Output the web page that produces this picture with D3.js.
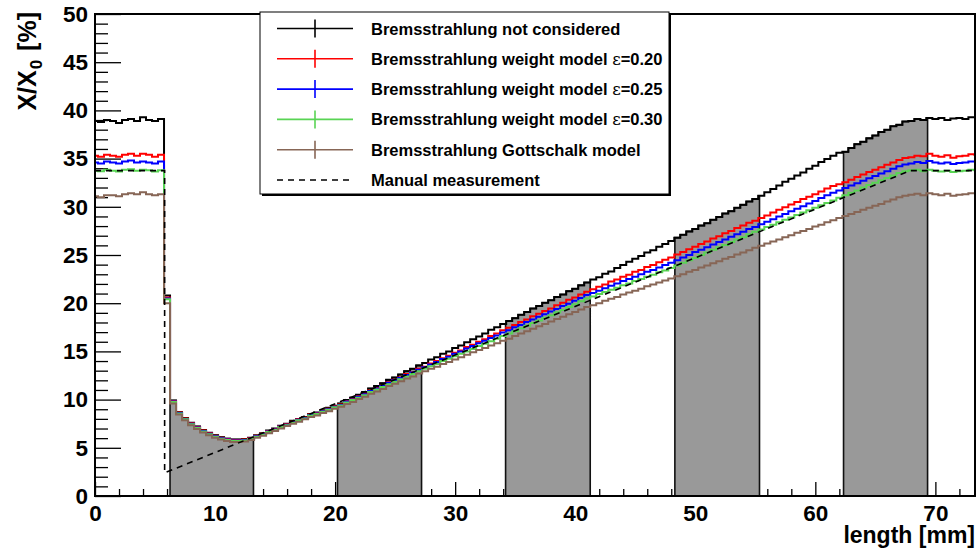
<!DOCTYPE html>
<html><head><meta charset="utf-8">
<script src="https://cdn.jsdelivr.net/npm/d3@7"></script>
<style>
body{margin:0;background:#fff}
svg{display:block}
text{font-family:"Liberation Sans",Arial,Helvetica,sans-serif;font-weight:bold;fill:#000}
</style>
</head><body>
<svg id="c" width="977" height="551"></svg>
<script>
// histogram binning (mm)
const binStart = -0.25;
const binWidth = 0.5;

// X/X0 [%] per bin
const notConsidered = [
38.9,38.8,39.0,38.9,38.7,39.0,39.1,38.9,39.3,39.0,
38.9,39.1,20.8,9.9,8.7,8.1,7.6,7.2,6.85,6.55,
6.3,6.1,5.95,5.85,5.85,5.9,6.05,6.3,6.5,6.8,
7.0,7.3,7.5,7.8,8.0,8.2,8.5,8.65,8.9,9.15,
9.35,9.6,9.95,10.2,10.5,10.8,11.15,11.4,11.7,12.05,
12.3,12.6,12.95,13.2,13.55,13.8,14.15,14.4,14.75,15.0,
15.35,15.6,15.95,16.25,16.55,16.85,17.25,17.5,17.85,18.15,
18.45,18.8,19.1,19.45,19.7,20.05,20.3,20.65,20.9,21.25,
21.5,21.85,22.15,22.45,22.7,23.05,23.3,23.65,23.95,24.3,
24.6,24.9,25.25,25.5,25.85,26.15,26.45,26.8,27.1,27.45,
27.7,28.05,28.3,28.65,28.95,29.3,29.55,29.9,30.2,30.55,
30.8,31.15,31.5,31.85,32.2,32.6,32.9,33.25,33.55,33.95,
34.25,34.65,34.95,35.3,35.6,35.7,36.1,36.5,36.75,37.1,
37.4,37.75,38.0,38.35,38.5,38.85,38.9,39.1,39.0,39.2,
39.1,39.2,39.0,39.15,39.2,39.1,39.3,39.3];

const weight020 = [
35.3,35.2,35.4,35.3,35.2,35.4,35.5,35.3,35.5,35.4,
35.2,35.4,20.6,9.85,8.65,8.05,7.55,7.15,6.8,6.5,
6.25,6.05,5.9,5.8,5.8,5.85,6.0,6.25,6.45,6.75,
6.95,7.25,7.45,7.7,7.95,8.15,8.45,8.6,8.85,9.05,
9.3,9.5,9.85,10.05,10.35,10.6,10.95,11.2,11.45,11.8,
12.05,12.3,12.65,12.85,13.2,13.4,13.75,14.0,14.3,14.55,
14.85,15.1,15.45,15.7,16.0,16.25,16.6,16.85,17.2,17.45,
17.75,18.05,18.3,18.65,18.9,19.2,19.45,19.8,20.05,20.35,
20.6,20.9,21.2,21.45,21.7,21.95,22.25,22.45,22.75,22.95,
23.25,23.45,23.75,23.95,24.25,24.5,24.75,25.05,25.3,25.6,
25.85,26.15,26.4,26.7,26.95,27.25,27.5,27.8,28.05,28.35,
28.55,28.85,29.1,29.4,29.7,29.95,30.25,30.5,30.8,31.05,
31.3,31.6,31.9,32.15,32.35,32.55,32.8,33.1,33.35,33.6,
33.85,34.1,34.35,34.6,34.85,35.05,35.15,35.3,35.25,35.5,
35.3,35.2,35.35,35.1,35.25,35.3,35.45,35.4];

const weight025 = [
34.6,34.5,34.7,34.6,34.5,34.7,34.8,34.6,34.7,34.6,
34.5,34.7,20.5,9.8,8.6,8.0,7.5,7.1,6.75,6.45,
6.2,6.0,5.85,5.75,5.75,5.8,5.95,6.2,6.4,6.7,
6.9,7.2,7.4,7.65,7.9,8.1,8.4,8.55,8.8,9.0,
9.25,9.45,9.8,10.0,10.3,10.55,10.9,11.15,11.4,11.75,
12.0,12.25,12.55,12.8,13.1,13.35,13.65,13.9,14.2,14.45,
14.75,15.0,15.3,15.55,15.85,16.1,16.4,16.65,16.95,17.2,
17.5,17.75,18.05,18.3,18.6,18.85,19.15,19.4,19.7,19.95,
20.25,20.55,20.85,21.05,21.3,21.55,21.8,22.05,22.3,22.5,
22.75,23.0,23.25,23.45,23.7,23.95,24.2,24.45,24.75,25.0,
25.3,25.55,25.8,26.1,26.35,26.6,26.9,27.15,27.4,27.7,
27.9,28.2,28.45,28.7,29.0,29.25,29.55,29.8,30.05,30.35,
30.6,30.9,31.2,31.45,31.7,31.95,32.2,32.45,32.7,32.95,
33.2,33.45,33.7,33.95,34.2,34.4,34.5,34.65,34.55,34.75,
34.6,34.5,34.6,34.45,34.55,34.6,34.7,34.7];

const weight030 = [
33.75,33.7,33.85,33.75,33.65,33.85,33.9,33.75,33.85,33.8,
33.65,33.8,20.4,9.75,8.55,7.95,7.45,7.05,6.7,6.4,
6.15,5.95,5.8,5.7,5.7,5.75,5.9,6.15,6.35,6.65,
6.85,7.15,7.35,7.6,7.85,8.05,8.35,8.5,8.75,8.95,
9.2,9.4,9.7,9.95,10.2,10.45,10.8,11.05,11.3,11.6,
11.85,12.1,12.4,12.65,12.95,13.2,13.45,13.7,14.0,14.25,
14.5,14.75,15.0,15.25,15.55,15.8,16.05,16.3,16.6,16.85,
17.1,17.4,17.65,17.95,18.2,18.5,18.75,19.05,19.3,19.6,
19.9,20.2,20.5,20.7,20.95,21.15,21.4,21.6,21.85,22.05,
22.3,22.5,22.75,22.95,23.2,23.4,23.65,23.9,24.2,24.45,
24.7,25.0,25.25,25.55,25.8,26.05,26.35,26.6,26.85,27.15,
27.4,27.65,27.9,28.15,28.4,28.65,28.9,29.15,29.4,29.65,
29.9,30.15,30.4,30.65,30.95,31.2,31.45,31.7,32.0,32.25,
32.5,32.75,33.0,33.25,33.5,33.7,33.8,33.85,33.7,33.85,
33.75,33.65,33.75,33.6,33.7,33.75,33.85,33.8];

const gottschalk = [
31.1,31.0,31.2,31.2,31.1,31.3,31.4,31.3,31.5,31.3,
31.2,31.3,20.0,9.6,8.45,7.85,7.35,6.95,6.6,6.3,
6.05,5.85,5.7,5.6,5.6,5.65,5.8,6.05,6.25,6.5,
6.75,7.0,7.25,7.5,7.7,7.95,8.2,8.35,8.6,8.8,
9.05,9.25,9.55,9.75,10.05,10.3,10.6,10.85,11.1,11.4,
11.65,11.9,12.2,12.4,12.7,12.95,13.2,13.4,13.7,13.9,
14.15,14.4,14.65,14.9,15.15,15.35,15.6,15.85,16.1,16.3,
16.6,16.85,17.1,17.35,17.6,17.85,18.1,18.35,18.6,18.85,
19.1,19.35,19.6,19.8,20.0,20.25,20.45,20.65,20.9,21.1,
21.3,21.5,21.75,21.95,22.15,22.35,22.55,22.8,23.0,23.25,
23.45,23.7,23.9,24.15,24.35,24.6,24.8,25.05,25.25,25.5,
25.75,25.95,26.2,26.4,26.6,26.85,27.05,27.3,27.5,27.7,
27.95,28.15,28.4,28.6,28.85,29.05,29.25,29.45,29.7,29.9,
30.1,30.3,30.55,30.75,31.0,31.15,31.25,31.35,31.2,31.4,
31.3,31.2,31.35,31.15,31.25,31.3,31.4,31.4];

// manual measurement polyline
const manualX = [0, 5.8, 5.8, 67.9, 73.3];
const manualY = [33.75, 33.75, 2.4, 33.75, 33.75];

// shaded (grey) length ranges, mm
const shadedStart = [6.25, 20.2, 34.2, 48.3, 62.35];
const shadedEnd   = [13.2, 27.2, 41.25, 55.35, 69.35];

const xMajorTicks = [0,10,20,30,40,50,60,70];
const xMinorTicks = [2,4,6,8,12,14,16,18,22,24,26,28,32,34,36,38,42,44,46,48,52,54,56,58,62,64,66,68,72];
const yMajorTicks = [0,5,10,15,20,25,30,35,40,45,50];
const yMinorTicks = [1,2,3,4,6,7,8,9,11,12,13,14,16,17,18,19,21,22,23,24,26,27,28,29,31,32,33,34,36,37,38,39,41,42,43,44,46,47,48,49];

const legendLabels = [
  "Bremsstrahlung not considered",
  "Bremsstrahlung weight model ",
  "Bremsstrahlung weight model ",
  "Bremsstrahlung weight model ",
  "Bremsstrahlung Gottschalk model",
  "Manual measurement"];
const legendEps = ["", "0.20", "0.25", "0.30", "", ""];
const seriesColors = ["#000000", "#ff0000", "#0000ff", "#59d454", "#876656"];

const L = 95, R = 975, T = 14, B = 496;
const svg = d3.select("#c");
const x = d3.scaleLinear().domain([0, 73.3]).range([L, R]);
const y = d3.scaleLinear().domain([0, 50]).range([B, T]);

svg.append("defs").append("clipPath").attr("id","clip")
  .append("rect").attr("x",L).attr("y",T).attr("width",R-L).attr("height",B-T);

// ticks (inside the frame)
function styleAxis(g){ g.select(".domain").remove(); g.selectAll("line").attr("stroke","#000").attr("stroke-width",1.3); }
function styleText(g){ g.selectAll("text").attr("font-size",22.5).attr("font-family","Liberation Sans, Arial, sans-serif").attr("font-weight","bold"); }
svg.append("g").attr("transform",`translate(0,${B})`)
  .call(d3.axisBottom(x).tickValues(xMinorTicks).tickSizeInner(-7).tickSizeOuter(0).tickFormat(""))
  .call(styleAxis);
svg.append("g").attr("transform",`translate(0,${B})`)
  .call(d3.axisBottom(x).tickValues(xMajorTicks).tickSizeInner(-14).tickSizeOuter(0).tickPadding(9).tickFormat(d3.format("d")))
  .call(styleAxis).call(styleText);
svg.append("g").attr("transform",`translate(${L},0)`)
  .call(d3.axisLeft(y).tickValues(yMinorTicks).tickSizeInner(-13).tickSizeOuter(0).tickFormat(""))
  .call(styleAxis);
svg.append("g").attr("transform",`translate(${L},0)`)
  .call(d3.axisLeft(y).tickValues(yMajorTicks).tickSizeInner(-26).tickSizeOuter(0).tickPadding(7).tickFormat(d3.format("d")))
  .call(styleAxis).call(styleText);

const plot = svg.append("g").attr("clip-path","url(#clip)");

// grey shaded regions under the "not considered" histogram
function regionPoints(vals, a, b){
  const pts = [];
  vals.forEach((v,i)=>{
    const l = binStart + i*binWidth, r = l + binWidth;
    if (r > a && l < b) pts.push([Math.max(l,a), v]);
  });
  pts.push([b, pts[pts.length-1][1]]);
  return pts;
}
const area = d3.area().curve(d3.curveStepAfter)
  .x(d=>x(d[0])).y0(y(0)).y1(d=>y(d[1]));
shadedStart.forEach((a,i)=>{
  plot.append("path").attr("d", area(regionPoints(notConsidered, a, shadedEnd[i])))
    .attr("fill","#999999").attr("stroke","#111").attr("stroke-width",1.6);
});

// histograms
function stepPoints(vals){
  const pts = vals.map((v,i)=>[binStart + i*binWidth, v]);
  pts.push([binStart + vals.length*binWidth, vals[vals.length-1]]);
  return pts;
}
const stepLine = d3.line().curve(d3.curveStepAfter).x(d=>x(d[0])).y(d=>y(d[1]));
[notConsidered, weight020, weight025, weight030, gottschalk].forEach((s,i)=>{
  plot.append("path").attr("d", stepLine(stepPoints(s)))
    .attr("fill","none").attr("stroke",seriesColors[i]).attr("stroke-width",2)
    .attr("stroke-linejoin","miter");
});

// manual measurement
const polyLine = d3.line().x(d=>x(d[0])).y(d=>y(d[1]));
plot.append("path").attr("d", polyLine(manualX.map((v,i)=>[v, manualY[i]])))
  .attr("fill","none").attr("stroke","#000").attr("stroke-width",1.6).attr("stroke-dasharray","6,5");

// frame
svg.append("rect").attr("x",L).attr("y",T).attr("width",R-L).attr("height",B-T)
  .attr("fill","none").attr("stroke","#000").attr("stroke-width",2);

// axis titles
svg.append("text").attr("x",R).attr("y",543).attr("text-anchor","end").attr("font-size",23).text("length [mm]");
const yt = svg.append("text").attr("transform","translate(36,12) rotate(-90)").attr("text-anchor","end").attr("font-size",25);
yt.append("tspan").text("X/X");
yt.append("tspan").attr("font-size",17).attr("dy",6).attr("dx",1).text("0");
yt.append("tspan").attr("dy",-6).attr("dx",2).text(" [%]");

// legend
const lg = svg.append("g");
lg.append("rect").attr("x",262).attr("y",14).attr("width",409).attr("height",182).attr("fill","#000");
lg.append("rect").attr("x",260).attr("y",12).attr("width",409).attr("height",182).attr("fill","#fff").attr("stroke","#000").attr("stroke-width",1);
legendLabels.forEach((lab,i)=>{
  const cy = 28.5 + i*30.3;
  const ln = lg.append("line").attr("x1",277).attr("x2",353).attr("y1",cy).attr("y2",cy)
    .attr("stroke", i<5 ? seriesColors[i] : "#000").attr("stroke-width",1.6);
  if (i<5) {
    lg.append("line").attr("x1",315).attr("x2",315).attr("y1",cy-9).attr("y2",cy+9)
      .attr("stroke",seriesColors[i]).attr("stroke-width",1.6);
  } else {
    ln.attr("stroke-dasharray","6,5");
  }
  const t = lg.append("text").attr("x",371).attr("y",cy+6).attr("font-size",16.5).text(lab);
  if (legendEps[i]) {
    t.append("tspan").attr("font-weight","normal").attr("font-family","DejaVu Serif, serif").text("\u03b5");
    t.append("tspan").text("=" + legendEps[i]);
  }
});
</script>
</body></html>
